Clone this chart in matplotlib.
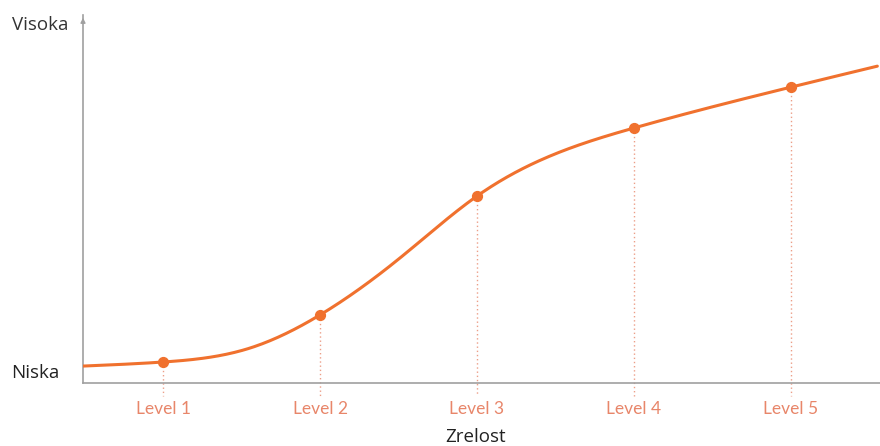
import numpy as np
import matplotlib
matplotlib.use("Agg")
import matplotlib.pyplot as plt

# maturity levels and their position on the curve (0 = Niska, 1 = Visoka)
levels = ["Level 1", "Level 2", "Level 3", "Level 4", "Level 5"]
level_x = [1, 2, 3, 4, 5]
level_y = [0.057, 0.185, 0.508, 0.693, 0.804]

# points, used to draw it smoothly
curve_x = [0.49, 1.0, 1.554, 2.0, 2.51, 3.0, 3.53, 4.0, 5.0, 5.55]
curve_y = [0.046, 0.057, 0.095, 0.185, 0.340, 0.508, 0.628, 0.693, 0.804, 0.861]

line_col = "#f0712e"
label_col = "#e8866a"
axis_col = "#a0a0a0"


def natural_spline(x, y, xs):
    x = np.asarray(x, float)
    y = np.asarray(y, float)
    n = len(x)
    h = np.diff(x)
    A = np.zeros((n, n))
    b = np.zeros(n)
    A[0, 0] = 1
    A[-1, -1] = 1
    for i in range(1, n - 1):
        A[i, i - 1] = h[i - 1]
        A[i, i] = 2 * (h[i - 1] + h[i])
        A[i, i + 1] = h[i]
        b[i] = 3 * ((y[i + 1] - y[i]) / h[i] - (y[i] - y[i - 1]) / h[i - 1])
    c = np.linalg.solve(A, b)
    bb = (y[1:] - y[:-1]) / h - h * (2 * c[:-1] + c[1:]) / 3
    d = (c[1:] - c[:-1]) / (3 * h)
    idx = np.clip(np.searchsorted(x, xs) - 1, 0, n - 2)
    t = xs - x[idx]
    return y[idx] + bb[idx] * t + c[idx] * t**2 + d[idx] * t**3


fig = plt.figure(figsize=(8.8, 4.46), dpi=100)
ax = fig.add_axes([83 / 880, 1 - 383 / 446, 797 / 880, 368 / 446])

xs = np.linspace(curve_x[0], curve_x[-1], 400)
ax.plot(xs, natural_spline(curve_x, curve_y, xs), color=line_col, lw=2.2, solid_capstyle="round", zorder=3)
ax.scatter(level_x, level_y, s=50, color=line_col, zorder=4)

for x, y in zip(level_x, level_y):
    ax.plot([x, x], [y, -0.035], color=label_col, lw=1, ls=(0, (1, 2)), alpha=0.8, clip_on=False, zorder=2)

ax.set_xlim(0.49, 5.567)
ax.set_ylim(0, 1)

for s in ["top", "right"]:
    ax.spines[s].set_visible(False)
ax.spines["left"].set_color(axis_col)
ax.spines["bottom"].set_color(axis_col)
ax.spines["left"].set_linewidth(1.2)
ax.spines["bottom"].set_linewidth(1.2)
ax.annotate("", xy=(0.49, 1.0), xytext=(0.49, 0.97), xycoords="data",
            arrowprops=dict(arrowstyle="-|>", color=axis_col, lw=1, mutation_scale=7), annotation_clip=False)

ax.set_xticks(level_x)
ax.set_xticklabels(levels, color=label_col, fontsize=12.5, family="Lato")
ax.tick_params(axis="x", length=0, pad=13)
ax.set_yticks([])

fig.text(12 / 880, 1 - 25 / 446, "Visoka", fontsize=13.5, va="center", ha="left", color="#333333", family="Open Sans")
fig.text(11 / 880, 1 - 373 / 446, "Niska", fontsize=13.5, va="center", ha="left", color="#222222", family="Open Sans")
fig.text(476 / 880, 1 - 437 / 446, "Zrelost", fontsize=13.5, va="center", ha="center", color="#222222", family="Open Sans")

fig.savefig("out.png", dpi=100)
